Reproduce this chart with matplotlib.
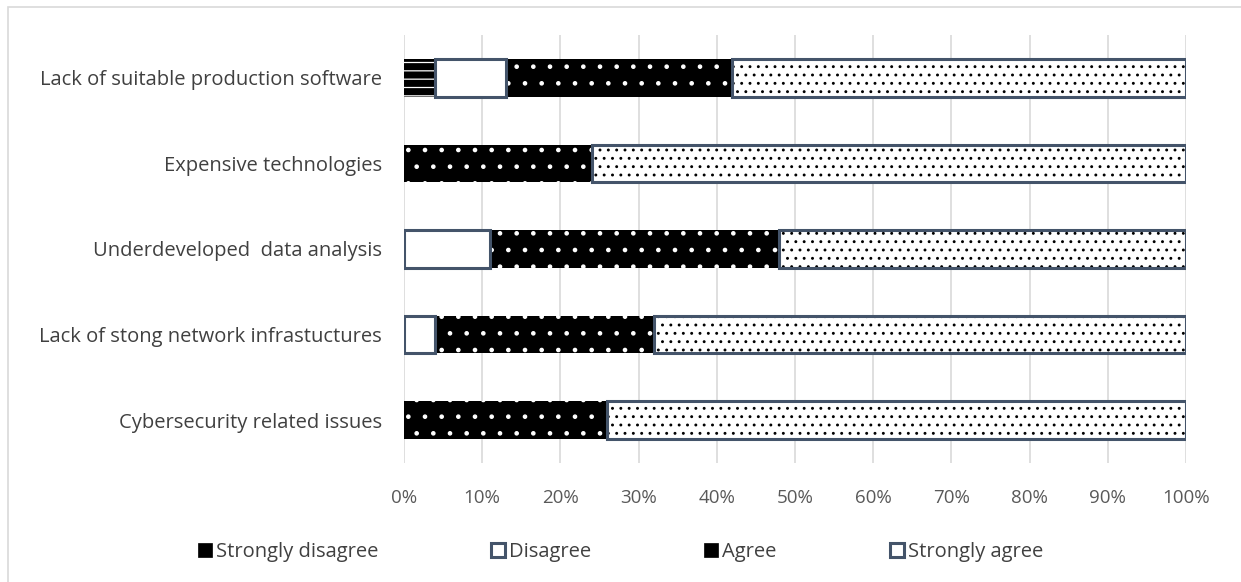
import matplotlib
matplotlib.use("Agg")
import matplotlib.pyplot as plt
from matplotlib.patches import Rectangle, Patch
import numpy as np

categories = ["Lack of suitable production software", "Expensive technologies",
              "Underdeveloped  data analysis", "Lack of stong network infrastuctures",
              "Cybersecurity related issues"]
series = ["Strongly disagree", "Disagree", "Agree", "Strongly agree"]
strongly_disagree = [4, 0, 0, 0, 0]
disagree = [9, 0, 11, 4, 0]
agree = [29, 24, 37, 28, 26]
strongly_agree = [58, 76, 52, 68, 74]
xticks = [0, 10, 20, 30, 40, 50, 60, 70, 80, 90, 100]
xtick_labels = [f"{v}%" for v in xticks]

plt.rcParams['font.family'] = ['Open Sans', 'DejaVu Sans']
plt.rcParams['hatch.linewidth'] = 0.9

fig = plt.figure(figsize=(12.41, 5.82), dpi=100)
fig.patches.append(Rectangle((8/1241, -0.1), 1.2, 1 - 7/582 + 0.1, transform=fig.transFigure,
                             fill=False, edgecolor='#D9D9D9', lw=1.2))
ax = fig.add_axes([404/1241, 1 - 463/582, (1186 - 404)/1241, (463 - 35)/582])

y = np.arange(len(categories))
h = 0.44
edge = '#44546A'
styles = [
    dict(face='black', hatchc='white', hatch='--', border=None),
    dict(face='white', hatchc='white', hatch=None, border=edge),
    dict(face='black', hatchc='white', hatch='.', border=None),
    dict(face='white', hatchc='black', hatch='..', border=edge),
]
data = [strongly_disagree, disagree, agree, strongly_agree]
left = np.zeros(len(categories))
handles = []
for vals, st, name in zip(data, styles, series):
    vals = np.array(vals, dtype=float)
    ax.barh(y, vals, left=left, height=h, color=st['face'], edgecolor=st['hatchc'],
            hatch=st['hatch'], linewidth=0, zorder=3)
    if st['border']:
        mask = vals > 0
        ax.barh(y[mask], vals[mask], left=left[mask], height=h, fill=False,
                edgecolor=st['border'], linewidth=2.2, zorder=4)
    left += vals
    if st['border']:
        handles.append(Patch(facecolor='white', edgecolor=st['border'], linewidth=2.2))
    else:
        handles.append(Patch(facecolor='black', edgecolor='black', linewidth=0.5))

ax.set_ylim(len(categories) - 0.5, -0.5)
ax.set_xlim(0, 100)
ax.set_yticks(y)
ax.set_yticklabels(categories, fontsize=14.5, color='#404040')
ax.set_xticks(xticks)
ax.set_xticklabels(xtick_labels, fontsize=13.5, color='#595959')
ax.tick_params(axis='both', length=0)
ax.tick_params(axis='y', pad=16)
ax.tick_params(axis='x', pad=19)
ax.grid(axis='x', color='#D9D9D9', lw=1.2, zorder=0)
for s in ['top', 'right', 'bottom', 'left']:
    ax.spines[s].set_visible(False)

leg = fig.legend(handles, series, loc='center', bbox_to_anchor=(0.5, 1 - 552/582), ncol=4,
                 frameon=False, fontsize=14.5, handlelength=0.7, handleheight=0.7,
                 handletextpad=0.2, columnspacing=5.6, labelcolor='#404040')
fig.savefig("out.png", dpi=100)
